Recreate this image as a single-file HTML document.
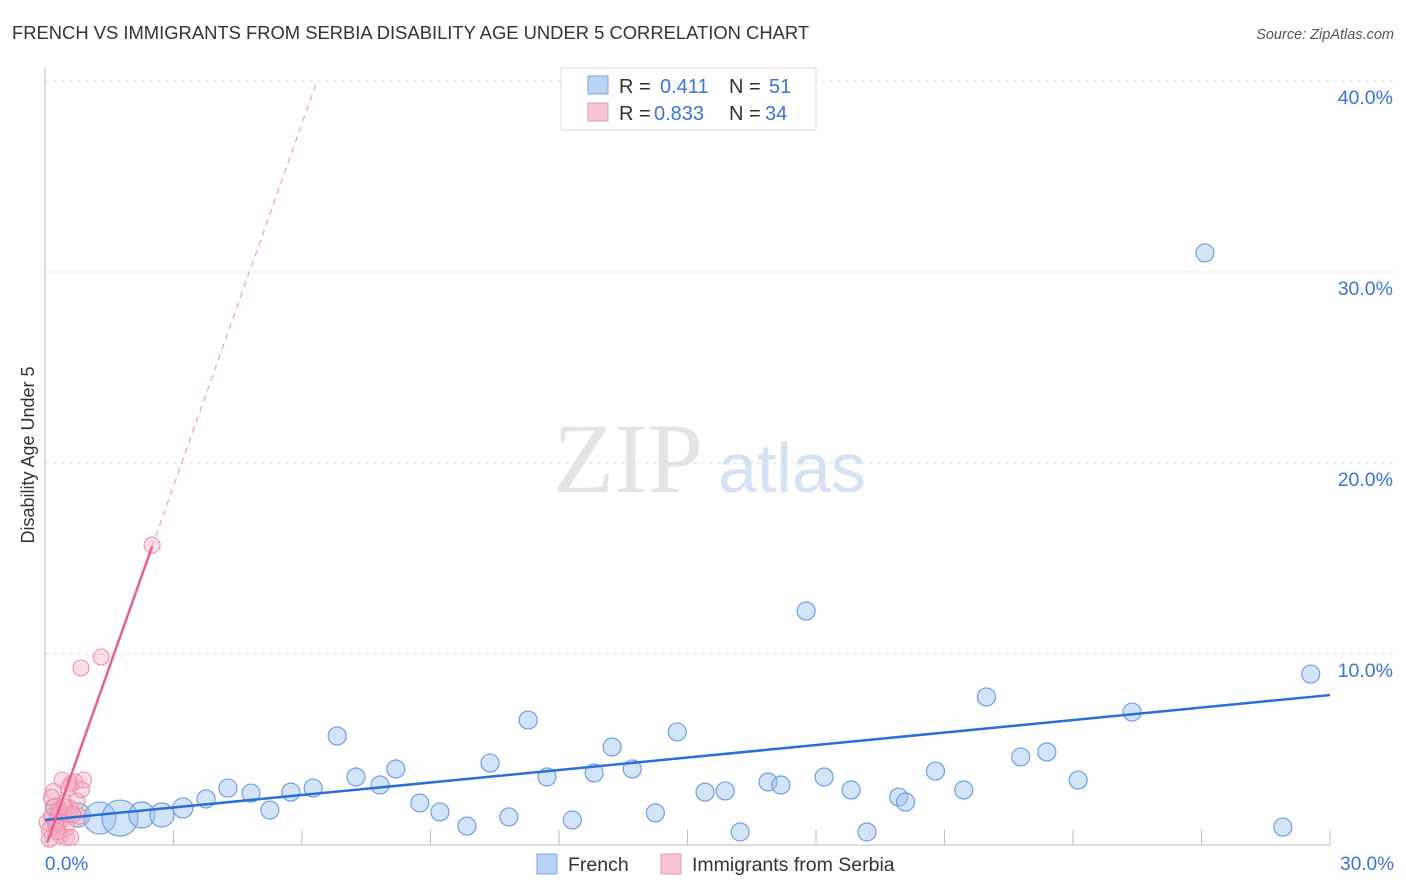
<!DOCTYPE html>
<html><head><meta charset="utf-8"><style>
body{margin:0;background:#fff;font-family:"Liberation Sans",sans-serif}
svg{display:block}
</style></head><body>
<svg width="1406" height="892">
<text x="12" y="39" font-size="18.4" fill="#333">FRENCH VS IMMIGRANTS FROM SERBIA DISABILITY AGE UNDER 5 CORRELATION CHART</text>
<text x="1394" y="39" font-size="14.5" fill="#555" font-style="italic" text-anchor="end">Source: ZipAtlas.com</text>
<text x="34" y="455" font-size="18" fill="#333" transform="rotate(-90 34 455)" text-anchor="middle">Disability Age Under 5</text>
<text x="553" y="492" font-size="100" fill="#e4e4e4" font-family="Liberation Serif,serif">ZIP</text>
<text x="718" y="492" font-size="70" fill="#d5e2f3">atlas</text>
<g id="grid"></g><g id="pts"></g><g id="lines"></g>
<g>
<rect x="561" y="68" width="255" height="62" fill="#fff" stroke="#ddd"/>
<rect x="588" y="76" width="20" height="18" fill="#b9d3f5" stroke="#7aa5e0"/>
<text x="619" y="93" font-size="20" fill="#333">R =</text>
<text x="660" y="93" font-size="20" fill="#3a74d6">0.411</text>
<text x="729" y="93" font-size="20" fill="#333">N =</text>
<text x="769" y="93" font-size="20" fill="#3a74d6">51</text>
<rect x="588" y="103" width="20" height="18" fill="#f8c5d3" stroke="#ef92ab"/>
<text x="619" y="120" font-size="20" fill="#333">R =</text>
<text x="654" y="120" font-size="20" fill="#3a74d6">0.833</text>
<text x="729" y="120" font-size="20" fill="#333">N =</text>
<text x="765" y="120" font-size="20" fill="#3a74d6">34</text>
</g>
<g>
<rect x="537" y="854" width="20" height="20" fill="#b9d3f5" stroke="#7aa5e0"/>
<text x="568" y="871" font-size="19.5" fill="#333">French</text>
<rect x="661" y="854" width="20" height="20" fill="#f8c5d3" stroke="#ef92ab"/>
<text x="692" y="871" font-size="19.5" fill="#333">Immigrants from Serbia</text>
</g>
</svg>
<script>
const yTicks=[10,20,30,40];
const xTickLabels=["0.0%","30.0%"];
const frenchX=[0.26,0.77,1.28,1.75,2.26,2.73,3.22,3.76,4.27,4.81,5.25,5.74,6.26,6.82,7.26,7.82,8.19,8.75,9.22,9.85,10.39,10.83,11.28,11.72,12.31,12.82,13.24,13.71,14.25,14.76,15.41,15.88,16.23,16.88,17.18,17.77,18.19,18.82,19.19,19.93,20.09,20.79,21.45,21.98,22.78,23.39,24.12,25.38,27.08,28.90,29.55];
const frenchY=[1.94,1.57,1.41,1.41,1.57,1.57,1.94,2.41,2.98,2.72,1.83,2.77,2.98,5.71,3.56,3.14,3.98,2.20,1.73,0.99,4.29,1.47,6.54,3.56,1.31,3.77,5.13,3.98,1.68,5.92,2.77,2.83,0.68,3.30,3.14,12.25,3.56,2.88,0.68,2.51,2.25,3.87,2.88,7.75,4.61,4.87,3.40,6.96,31.0,0.94,8.95];
const frenchR=[10,12,16,18,13,12,10,9,9,9,9,9,9,9,9,9,9,9,9,9,9,9,9,9,9,9,9,9,9,9,9,9,9,9,9,9,9,9,9,9,9,9,9,9,9,9,9,9,9,9,9];
const serbiaX=[0.05,0.1,0.15,0.2,0.25,0.3,0.35,0.4,0.45,0.5,0.55,0.6,0.1,0.2,0.3,0.4,0.5,0.6,0.7,0.8,0.15,0.35,0.55,0.75,0.9,0.25,0.45,0.65,0.85,0.3,0.6,0.84,1.31,2.50];
const serbiaY=[1.2,0.8,1.5,2.0,1.0,1.8,0.5,1.3,2.2,0.9,1.6,3.2,0.3,2.8,1.1,3.4,0.4,1.9,3.3,1.5,2.5,1.7,3.0,2.3,3.4,1.2,2.0,1.6,2.9,0.7,0.4,9.27,9.84,15.7];
const frenchLine=[1.31,7.85];
const serbiaSlope=6.33, serbiaIntercept=-0.2;
const X=v=>45+v/30*1285, Y=v=>845-v*19.1;
const ns="http://www.w3.org/2000/svg";
function mk(t,a,p){const e=document.createElementNS(ns,t);for(const k in a)e.setAttribute(k,a[k]);p.appendChild(e);return e;}
const g=document.getElementById('grid'),pg=document.getElementById('pts'),lg=document.getElementById('lines');
yTicks.forEach(v=>{
 const l=mk('line',{x1:45,x2:1394,y1:Y(v),y2:Y(v),stroke:'#ddd','stroke-dasharray':'4,4'},g);
 
 
 const t=mk('text',{x:1393,y:Y(v)+23,'font-size':19.5,fill:'#3a74d6','text-anchor':'end'},g);t.textContent=v.toFixed(1)+'%';
 
 
});
mk('line',{x1:45,x2:45,y1:68,y2:845,stroke:'#bbb'},g);
mk('line',{x1:45,x2:1330,y1:845,y2:845,stroke:'#bbb'},g);
for(let i=1;i<=10;i++){mk('line',{x1:45+i*128.5,x2:45+i*128.5,y1:830,y2:845,stroke:'#bbb'},g);}
const t0=mk('text',{x:45,y:870,'font-size':19,fill:'#3a74d6'},g);t0.textContent=xTickLabels[0];


const t1=mk('text',{x:1394,y:870,'font-size':19,fill:'#3a74d6','text-anchor':'end'},g);t1.textContent=xTickLabels[1];


frenchX.forEach((v,i)=>{const c=mk('circle',{cx:X(v),cy:Y(frenchY[i]),r:frenchR[i],fill:'rgba(160,195,240,0.45)',stroke:'#6f9fe0','stroke-width':1.2},pg);
 
 });
serbiaX.forEach((v,i)=>{const c=mk('circle',{cx:X(v),cy:Y(serbiaY[i]),r:8,fill:'rgba(245,170,192,0.4)',stroke:'#ee8ca8','stroke-width':1},pg);
 
 });
const bl=mk('line',{x1:X(0),y1:Y(frenchLine[0]),x2:X(30),y2:Y(frenchLine[1]),stroke:'#2a6fd6','stroke-width':2.5},lg);


const sy=x=>serbiaSlope*x+serbiaIntercept;
const xs0=0.05,xs1=2.5,xs2=(40-serbiaIntercept)/serbiaSlope;
const pl=mk('line',{x1:X(xs0),y1:Y(sy(xs0)),x2:X(xs1),y2:Y(sy(xs1)),stroke:'#e8608a','stroke-width':2.5},lg);


const pd=mk('line',{x1:X(xs1),y1:Y(sy(xs1)),x2:X(xs2),y2:Y(sy(xs2)),stroke:'#eba0b6','stroke-width':1.2,'stroke-dasharray':'6,5'},lg);


</script>
</body></html>
